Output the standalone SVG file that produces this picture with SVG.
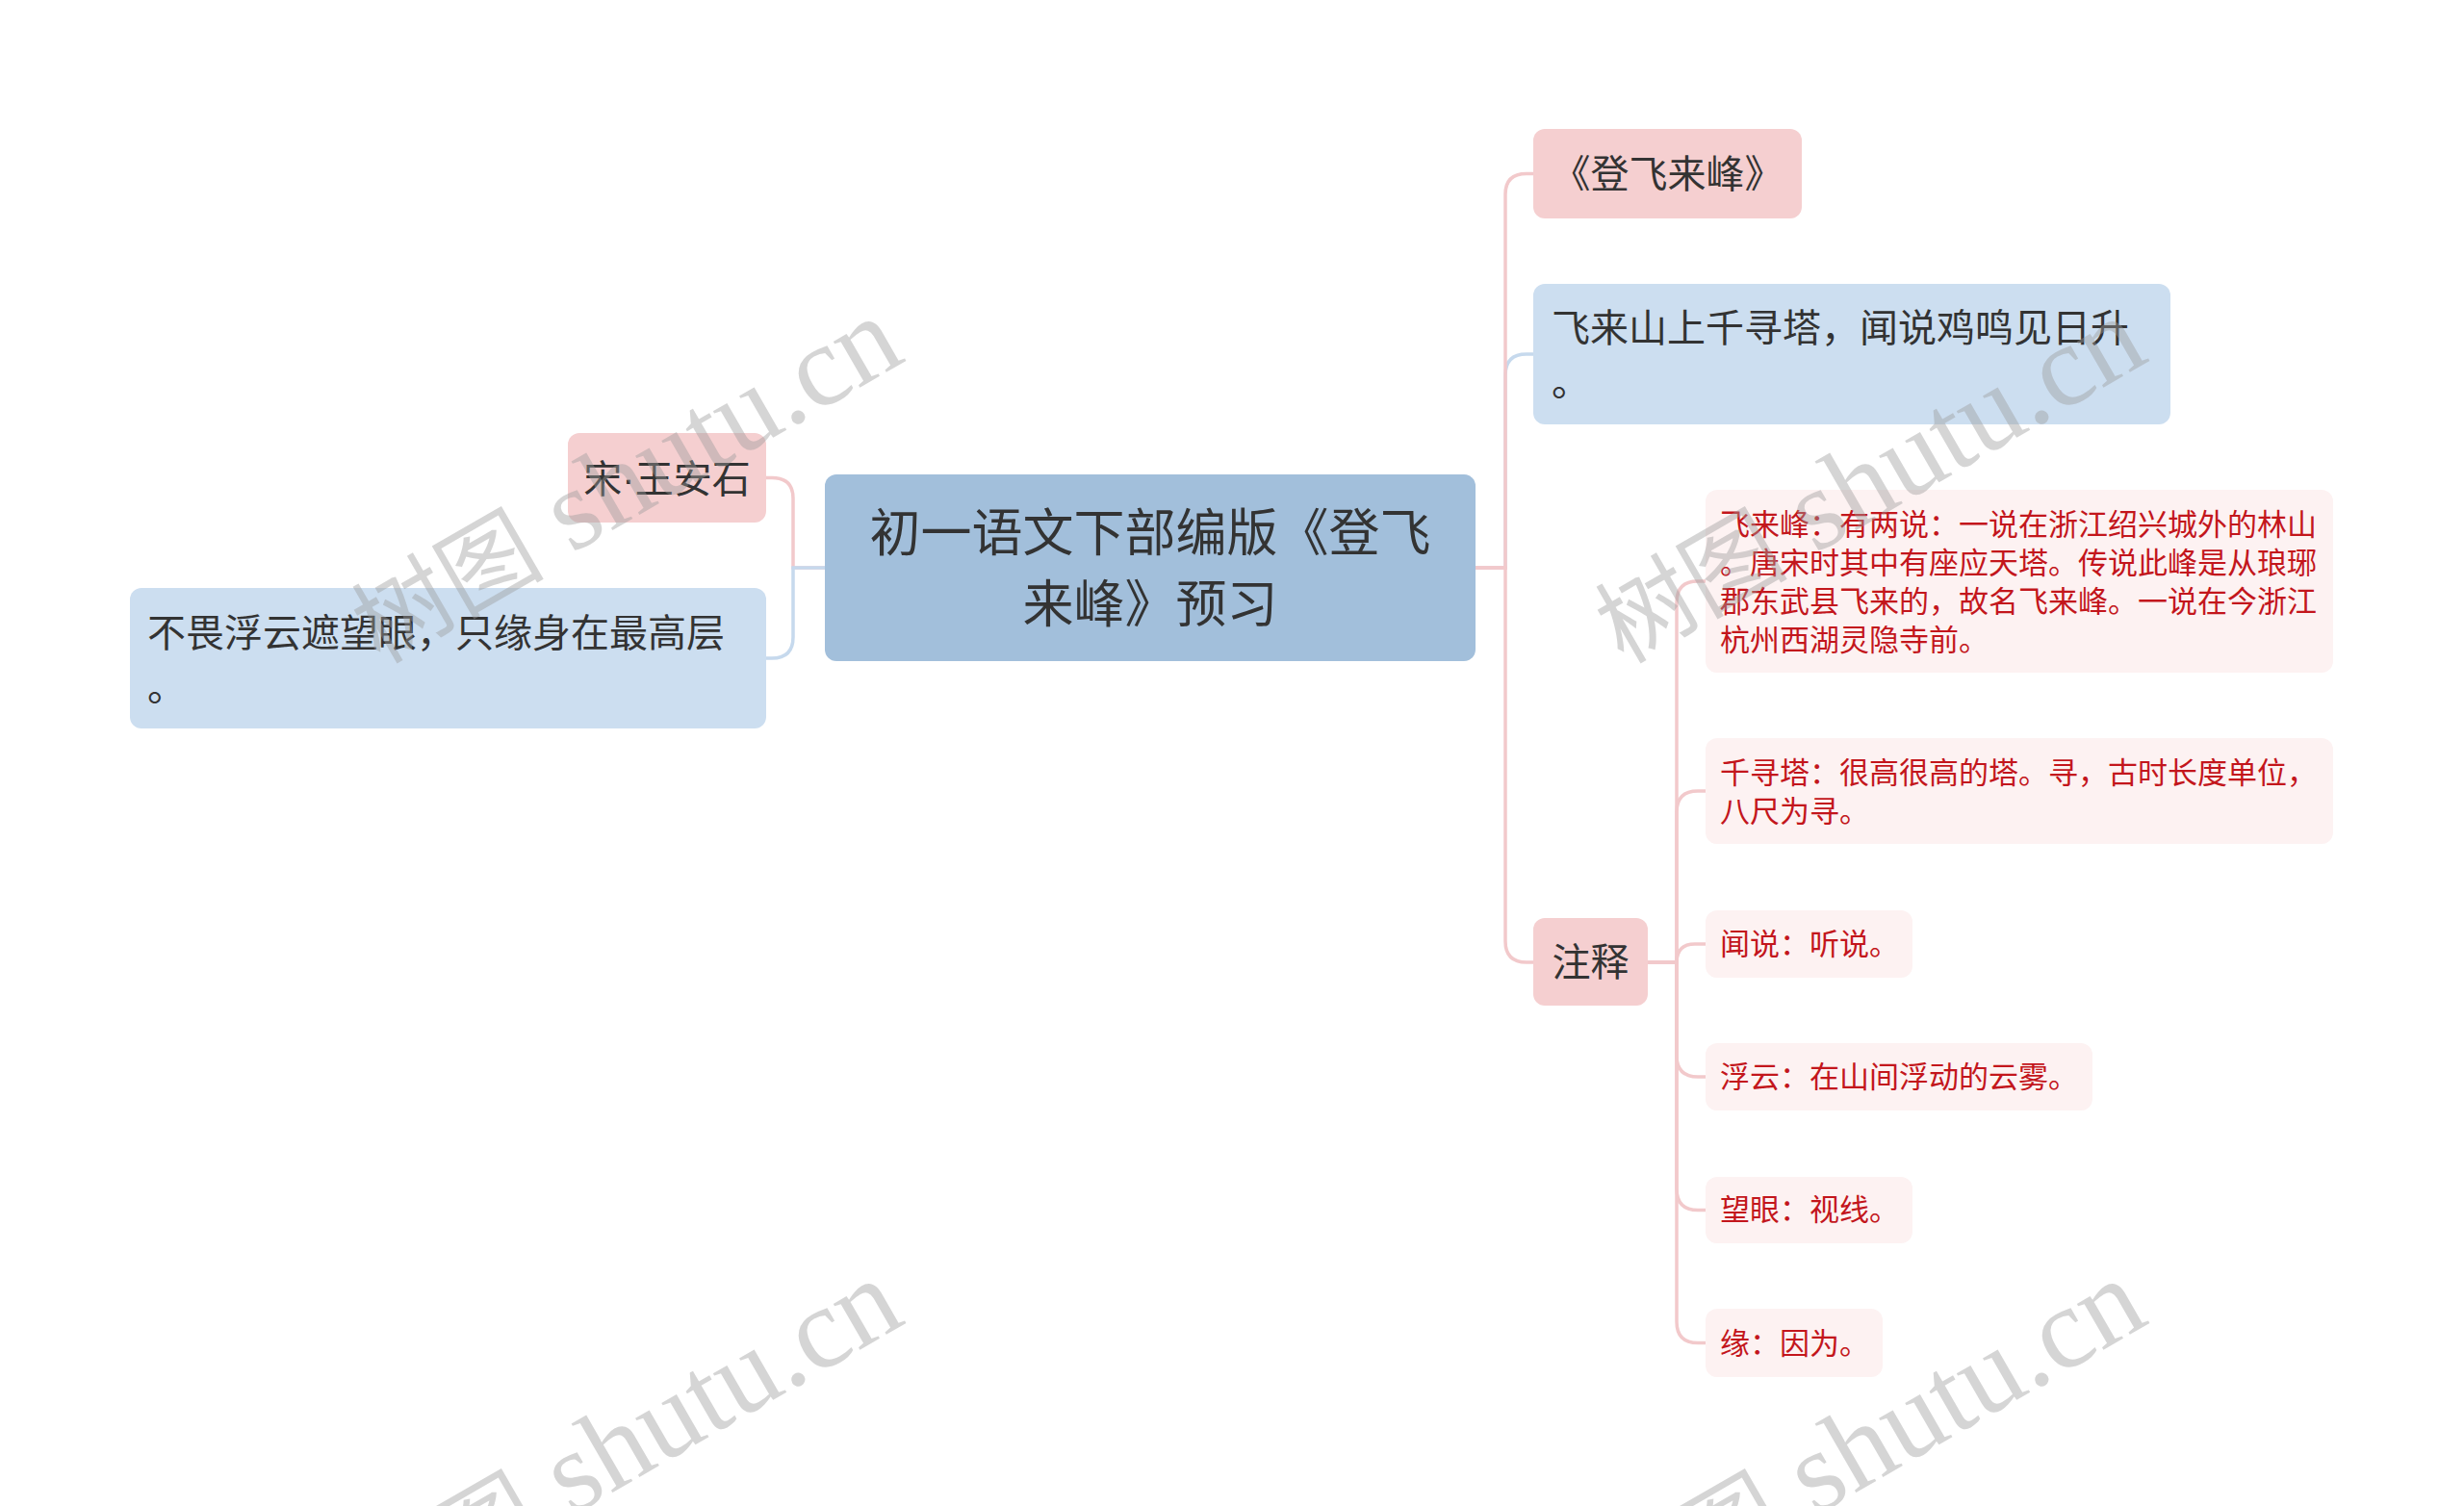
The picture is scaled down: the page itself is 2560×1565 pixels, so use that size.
<svg xmlns="http://www.w3.org/2000/svg" width="2560" height="1565" viewBox="0 0 2560 1565">
<style>
.t{font-family:"Noto Sans CJK SC","Noto Sans",sans-serif;fill:#333333}
.root{fill:#a2bfdb}
.blue{fill:#ccdef0}
.pink{fill:#f5cfd0}
.note{fill:#fdf2f2}
.nt{font-family:"Noto Sans CJK SC","Noto Sans",sans-serif;fill:#c3161c;font-size:31px}
.cp{fill:none;stroke:#f2c9cb;stroke-width:3.5}
.cb{fill:none;stroke:#c6d9ed;stroke-width:3.5}
.wm{font-family:"Liberation Serif","Noto Sans CJK SC",serif;font-size:120px;fill:#9a9a9a;fill-opacity:0.42;text-anchor:end}
.wc{font-size:100px}
</style>
<rect width="2560" height="1565" fill="#ffffff"/>
<g id="connectors">
<path class="cp" d="M857,590 H824 V518 Q824,496.5 802,496.5 H796"/>
<path class="cb" d="M857,590 H824 V662 Q824,684 802,684 H796"/>
<path class="cb" d="M1533,590 H1564 V390 Q1564,368 1586,368 H1593"/>
<path class="cp" d="M1533,590 H1564 V202 Q1564,180.5 1586,180.5 H1593"/>
<path class="cp" d="M1533,590 H1564 V978 Q1564,1000 1586,1000 H1593"/>
<path class="cp" d="M1712,1000 H1742 V626 Q1742,604 1764,604 H1772"/>
<path class="cp" d="M1712,1000 H1742 V844 Q1742,822 1764,822 H1772"/>
<path class="cp" d="M1712,1000 H1742 Q1742,981 1761,981 H1772"/>
<path class="cp" d="M1712,1000 H1742 V1097 Q1742,1119 1764,1119 H1772"/>
<path class="cp" d="M1712,1000 H1742 V1235.5 Q1742,1257.5 1764,1257.5 H1772"/>
<path class="cp" d="M1712,1000 H1742 V1373.5 Q1742,1395.5 1764,1395.5 H1772"/>
</g>
<g id="root">
<rect class="root" x="857" y="493" width="676" height="194" rx="12"/>
<text class="t" font-size="53" text-anchor="middle"><tspan x="1195" y="573">初一语文下部编版《登飞</tspan><tspan x="1195" y="647">来峰》预习</tspan></text>
</g>
<g id="author">
<rect class="pink" x="590" y="450" width="206" height="93" rx="12"/>
<text class="t" font-size="40" x="693" y="512" text-anchor="middle">宋<tspan font-family="Liberation Sans">·</tspan>王安石</text>
</g>
<g id="line2">
<rect class="blue" x="135" y="611" width="661" height="146" rx="12"/>
<text class="t" font-size="40"><tspan x="153" y="672">不畏浮云遮望眼，只缘身在最高层</tspan><tspan x="153" y="728">。</tspan></text>
</g>
<g id="title">
<rect class="pink" x="1593" y="134" width="279" height="93" rx="12"/>
<text class="t" font-size="40" x="1732.5" y="195" text-anchor="middle">《登飞来峰》</text>
</g>
<g id="line1">
<rect class="blue" x="1593" y="295" width="662" height="146" rx="12"/>
<text class="t" font-size="40"><tspan x="1612" y="355">飞来山上千寻塔，闻说鸡鸣见日升</tspan><tspan x="1612" y="411">。</tspan></text>
</g>
<g id="notes">
<rect class="pink" x="1593" y="954" width="119" height="91" rx="12"/>
<text class="t" font-size="40" x="1652.5" y="1014" text-anchor="middle">注释</text>
</g>
<g id="note1">
<rect class="note" x="1772" y="509" width="652" height="190" rx="12"/>
<text class="nt"><tspan x="1787" y="556">飞来峰：有两说：一说在浙江绍兴城外的林山</tspan><tspan x="1787" y="596">。唐宋时其中有座应天塔。传说此峰是从琅琊</tspan><tspan x="1787" y="636">郡东武县飞来的，故名飞来峰。一说在今浙江</tspan><tspan x="1787" y="676">杭州西湖灵隐寺前。</tspan></text>
</g>
<g id="note2">
<rect class="note" x="1772" y="767" width="652" height="110" rx="12"/>
<text class="nt"><tspan x="1787" y="814">千寻塔：很高很高的塔。寻，古时长度单位，</tspan><tspan x="1787" y="854">八尺为寻。</tspan></text>
</g>
<g id="note3">
<rect class="note" x="1772" y="946" width="215" height="70" rx="12"/>
<text class="nt" x="1787" y="992">闻说：听说。</text>
</g>
<g id="note4">
<rect class="note" x="1772" y="1084" width="402" height="70" rx="12"/>
<text class="nt" x="1787" y="1130">浮云：在山间浮动的云雾。</text>
</g>
<g id="note5">
<rect class="note" x="1772" y="1223" width="215" height="69" rx="12"/>
<text class="nt" x="1787" y="1268">望眼：视线。</text>
</g>
<g id="note6">
<rect class="note" x="1772" y="1360" width="184" height="71" rx="12"/>
<text class="nt" x="1787" y="1407">缘：因为。</text>
</g>
<g id="watermarks">
<text class="wm" transform="translate(943,374) rotate(-30)"><tspan class="wc">树图</tspan> shutu.cn</text>
<text class="wm" transform="translate(943,1374) rotate(-30)"><tspan class="wc">树图</tspan> shutu.cn</text>
<text class="wm" transform="translate(2235,374) rotate(-30)"><tspan class="wc">树图</tspan> shutu.cn</text>
<text class="wm" transform="translate(2235,1374) rotate(-30)"><tspan class="wc">树图</tspan> shutu.cn</text>
</g>
</svg>
